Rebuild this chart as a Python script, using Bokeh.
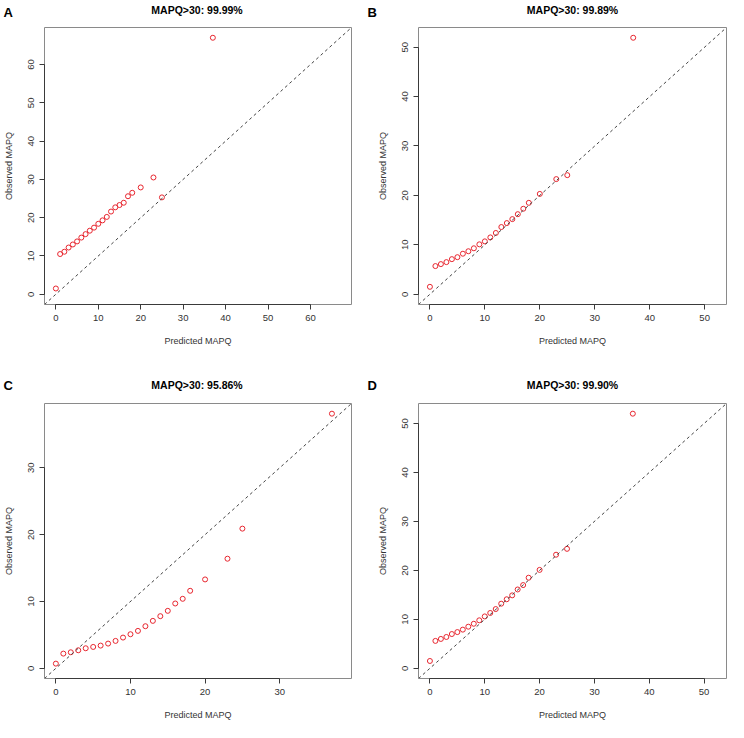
from bokeh.plotting import figure
from bokeh.layouts import gridplot
from bokeh.models import Range1d, FixedTicker, Slope, Label
from bokeh.embed import file_html
from bokeh.resources import INLINE

# ---------------- data ----------------
predicted = [0, 1, 2, 3, 4, 5, 6, 7, 8, 9, 10, 11, 12, 13, 14, 15, 16, 17, 18, 20, 23, 25, 37]

observed_A = [1.5, 10.5, 11.1, 12.2, 13.0, 13.8, 14.8, 15.7, 16.6, 17.4, 18.4, 19.3, 20.2,
              21.6, 22.7, 23.3, 23.9, 25.6, 26.5, 27.9, 30.5, 25.3, 67.0]
observed_B = [1.5, 5.7, 6.1, 6.5, 7.1, 7.5, 8.2, 8.7, 9.3, 10.1, 10.7, 11.5, 12.4,
              13.6, 14.4, 15.2, 16.2, 17.3, 18.5, 20.3, 23.3, 24.1, 51.9]
observed_C = [0.7, 2.2, 2.4, 2.7, 3.0, 3.2, 3.4, 3.7, 4.1, 4.6, 5.1, 5.6, 6.3,
              7.1, 7.8, 8.6, 9.7, 10.4, 11.6, 13.3, 16.4, 20.9, 38.1]
observed_D = [1.5, 5.6, 6.0, 6.4, 7.0, 7.4, 7.9, 8.5, 9.1, 9.8, 10.6, 11.3, 12.1,
              13.2, 14.1, 14.9, 16.1, 17.0, 18.5, 20.1, 23.2, 24.4, 52.0]

panel_letters = ["A", "B", "C", "D"]
panel_titles = ["MAPQ>30: 99.99%", "MAPQ>30: 99.89%", "MAPQ>30: 95.86%", "MAPQ>30: 99.90%"]
ticks_A = [0, 10, 20, 30, 40, 50, 60]
ticks_B = [0, 10, 20, 30, 40, 50]
ticks_C = [0, 10, 20, 30]
ticks_D = [0, 10, 20, 30, 40, 50]

x_label = "Predicted MAPQ"
y_label = "Observed MAPQ"

FONT = "Liberation Sans"
W, H = 364, 361


def make_panel(letter, title, obs, ticks, left, right, top, bottom, title_y, letter_y):
    hi = max(max(predicted), max(obs))
    pad = 0.04 * hi
    p = figure(width=W, height=H, output_backend="svg", toolbar_location=None, title=None,
               x_range=Range1d(-pad, hi + pad), y_range=Range1d(-pad, hi + pad),
               min_border_left=left, min_border_right=right,
               min_border_top=top, min_border_bottom=bottom)
    p.grid.visible = False
    p.outline_line_color = "#8a8a8a"
    p.outline_line_width = 1
    p.background_fill_color = "white"
    p.border_fill_color = "white"

    for ax in (p.xaxis[0], p.yaxis[0]):
        ax.ticker = FixedTicker(ticks=ticks)
        ax.bounds = (ticks[0], ticks[-1])
        ax.axis_line_color = "#3a3a3a"
        ax.major_tick_line_color = "#3a3a3a"
        ax.minor_tick_line_color = None
        ax.major_tick_out = 5
        ax.major_tick_in = 0
        ax.major_label_text_font = FONT
        ax.major_label_text_font_size = "9.5px"
        ax.major_label_text_color = "#333333"
        ax.major_label_standoff = 5
        ax.axis_label_text_font = FONT
        ax.axis_label_text_font_size = "9px"
        ax.axis_label_text_font_style = "normal"
        ax.axis_label_text_color = "#333333"
        ax.axis_label_standoff = 12
    p.xaxis.axis_label = x_label
    p.yaxis.axis_label = y_label
    p.yaxis.major_label_orientation = "vertical"

    p.add_layout(Slope(gradient=1, y_intercept=0, line_color="#444444",
                       line_width=1, line_dash="3 3"))
    p.scatter(predicted, obs, marker="circle", size=5, fill_color=None,
              line_color="#e8262f", line_width=1)

    frame_w = W - left - right
    p.add_layout(Label(x=left + frame_w / 2, y=title_y, x_units="canvas", y_units="canvas",
                       text=title, text_font=FONT, text_font_size="10.5px",
                       text_font_style="bold", text_color="black",
                       text_align="center", text_baseline="alphabetic"), "above")
    p.add_layout(Label(x=3, y=letter_y, x_units="canvas", y_units="canvas",
                       text=letter, text_font=FONT, text_font_size="13px",
                       text_font_style="bold", text_color="black",
                       text_align="left", text_baseline="alphabetic"), "above")
    return p


pA = make_panel(panel_letters[0], panel_titles[0], observed_A, ticks_A, 42, 13, 27, 57, 9.5, 11.5)
pB = make_panel(panel_letters[1], panel_titles[1], observed_B, ticks_B, 54, 2, 27, 57, 9.5, 11.5)
pC = make_panel(panel_letters[2], panel_titles[2], observed_C, ticks_C, 42, 13, 42, 43, 23.5, 24)
pD = make_panel(panel_letters[3], panel_titles[3], observed_D, ticks_D, 54, 2, 42, 43, 23.5, 24)

grid = gridplot([[pA, pB], [pC, pD]], toolbar_location=None)

open("out.html", "w").write(file_html(grid, INLINE))
